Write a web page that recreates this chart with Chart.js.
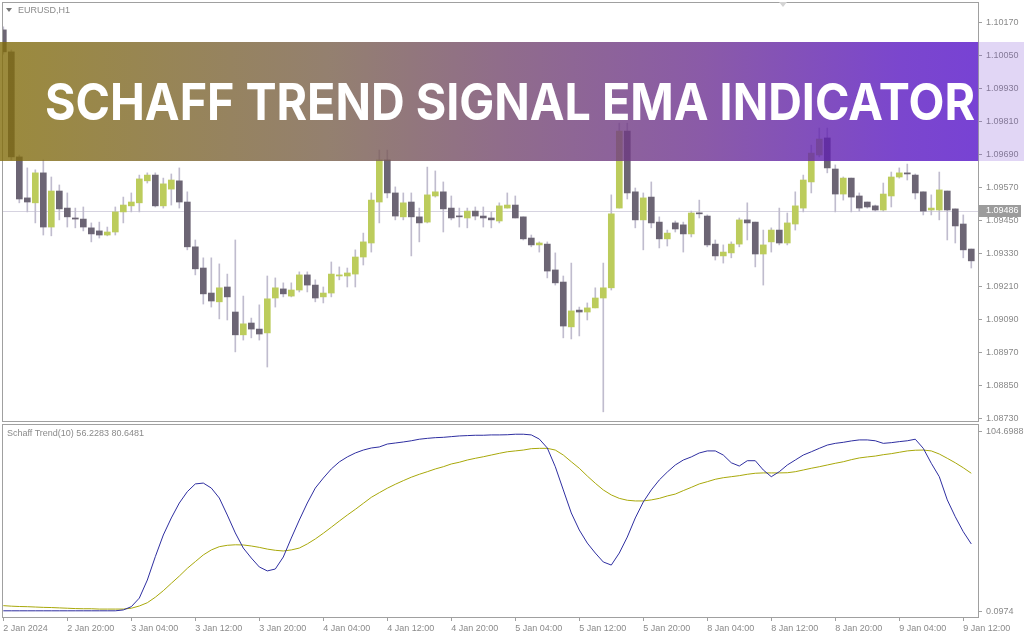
<!DOCTYPE html>
<html>
<head>
<meta charset="utf-8">
<script src="https://cdn.jsdelivr.net/npm/chart.js@4.4.1/dist/chart.umd.min.js"></script>
<style>
html, body { margin: 0; padding: 0; background: #fff; }
#wrap { position: relative; width: 1024px; height: 640px; overflow: hidden; font-family: "Liberation Sans", Arial, sans-serif; }
#main { position: absolute; left: 0; top: 0; }
#ind { position: absolute; left: 0; top: 424px; }
.lbl { position: absolute; font-size: 9px; color: #8a8a8a; white-space: nowrap; line-height: 10px; }
#banner { position: absolute; left: 0; top: 42px; width: 978px; height: 119px;
  background: linear-gradient(to right, rgba(130,109,11,0.8) 0%, rgba(121,96,76,0.8) 34%, rgba(116,71,111,0.8) 52%, rgba(109,49,146,0.8) 72%, rgba(90,24,193,0.8) 92%, rgba(86,19,201,0.8) 100%); }
#bannerSide { position: absolute; left: 978px; top: 42px; width: 46px; height: 119px; background: rgba(120,70,210,0.22); }
#title { position: absolute; left: 0; top: 0; }
#shiftMark { position: absolute; left: 779px; top: 2px; width: 0; height: 0; border-left: 4px solid transparent; border-right: 4px solid transparent; border-top: 5px solid #d4d4d4; }
#symTri { position: absolute; left: 6px; top: 8px; width: 0; height: 0; border-left: 3px solid transparent; border-right: 3px solid transparent; border-top: 4px solid #777; }
</style>
</head>
<body>
<div id="wrap">
  <canvas id="main" width="1024" height="424"></canvas>
  <canvas id="ind" width="1024" height="216"></canvas>
  <div id="symTri"></div>
  <div class="lbl" style="left:18px; top:5px;">EURUSD,H1</div>
  <div id="shiftMark"></div>
  <div class="lbl" style="left:7px; top:428px;">Schaff Trend(10) 56.2283 80.6481</div>
  <div id="banner"></div>
  <div id="bannerSide"></div>
  <svg id="title" width="1024" height="200" xmlns="http://www.w3.org/2000/svg">
    <text id="titleText" x="45" y="120" fill="#fff" font-family="Inter, Lato, sans-serif" font-weight="700"
      font-size="51" textLength="930" lengthAdjust="spacingAndGlyphs">SCHAFF TREND SIGNAL EMA INDICATOR</text>
  </svg>
</div>
<script>
// time axis labels, one every 8 bars starting at bar 0
const timeLabels = ['2 Jan 2024', '2 Jan 20:00', '3 Jan 04:00', '3 Jan 12:00', '3 Jan 20:00', '4 Jan 04:00',
  '4 Jan 12:00', '4 Jan 20:00', '5 Jan 04:00', '5 Jan 12:00', '5 Jan 20:00', '8 Jan 04:00',
  '8 Jan 12:00', '8 Jan 20:00', '9 Jan 04:00', '9 Jan 12:00'];
const priceTicks = [1.10170, 1.10050, 1.09930, 1.09810, 1.09690, 1.09570, 1.09450, 1.09330,
  1.09210, 1.09090, 1.08970, 1.08850, 1.08730];
const stcTicks = [104.6988, 0.0974];
const bidPrice = 1.09486;

const opens = [1.10145, 1.10065, 1.09683, 1.09534, 1.09516, 1.09625, 1.09428, 1.09559, 1.09497, 1.09461,
  1.09457, 1.09425, 1.09414, 1.09399, 1.09410, 1.09483, 1.09505, 1.09516, 1.09596, 1.09617,
  1.09505, 1.09566, 1.09596, 1.09519, 1.09356, 1.09279, 1.09188, 1.09156, 1.09210, 1.09119,
  1.09036, 1.09079, 1.09057, 1.09043, 1.09170, 1.09203, 1.09177, 1.09199, 1.09254, 1.09217,
  1.09174, 1.09188, 1.09250, 1.09250, 1.09257, 1.09319, 1.09370, 1.09519, 1.09672, 1.09552,
  1.09465, 1.09519, 1.09465, 1.09446, 1.09541, 1.09556, 1.09497, 1.09468, 1.09461, 1.09486,
  1.09468, 1.09461, 1.09450, 1.09497, 1.09508, 1.09465, 1.09388, 1.09363, 1.09366, 1.09272,
  1.09228, 1.09065, 1.09126, 1.09119, 1.09134, 1.09170, 1.09207, 1.09497, 1.09777, 1.09556,
  1.09454, 1.09537, 1.09446, 1.09385, 1.09443, 1.09436, 1.09403, 1.09479, 1.09468, 1.09366,
  1.09323, 1.09334, 1.09366, 1.09454, 1.09446, 1.09330, 1.09374, 1.09417, 1.09370, 1.09439,
  1.09497, 1.09592, 1.09690, 1.09752, 1.09639, 1.09548, 1.09606, 1.09541, 1.09519, 1.09505,
  1.09490, 1.09541, 1.09610, 1.09625, 1.09617, 1.09556, 1.09490, 1.09490, 1.09559, 1.09494,
  1.09439, 1.09348];
const highs = [1.10156, 1.10072, 1.09690, 1.09643, 1.09636, 1.09672, 1.09610, 1.09581, 1.09552, 1.09497,
  1.09501, 1.09443, 1.09446, 1.09428, 1.09501, 1.09537, 1.09552, 1.09617, 1.09625, 1.09625,
  1.09606, 1.09621, 1.09643, 1.09556, 1.09381, 1.09316, 1.09316, 1.09294, 1.09257, 1.09381,
  1.09177, 1.09097, 1.09145, 1.09250, 1.09243, 1.09225, 1.09225, 1.09265, 1.09265, 1.09236,
  1.09210, 1.09301, 1.09283, 1.09279, 1.09345, 1.09406, 1.09552, 1.09708, 1.09708, 1.09574,
  1.09552, 1.09552, 1.09497, 1.09646, 1.09632, 1.09592, 1.09541, 1.09497, 1.09497, 1.09501,
  1.09501, 1.09483, 1.09516, 1.09552, 1.09541, 1.09465, 1.09399, 1.09374, 1.09374, 1.09334,
  1.09250, 1.09297, 1.09137, 1.09152, 1.09207, 1.09297, 1.09545, 1.09806, 1.09806, 1.09570,
  1.09552, 1.09592, 1.09465, 1.09417, 1.09450, 1.09446, 1.09486, 1.09526, 1.09472, 1.09381,
  1.09363, 1.09374, 1.09461, 1.09516, 1.09446, 1.09417, 1.09425, 1.09497, 1.09479, 1.09556,
  1.09617, 1.09726, 1.09788, 1.09788, 1.09654, 1.09610, 1.09606, 1.09552, 1.09519, 1.09508,
  1.09588, 1.09628, 1.09643, 1.09657, 1.09621, 1.09556, 1.09545, 1.09628, 1.09559, 1.09494,
  1.09472, 1.09348];
const lows = [1.10057, 1.09672, 1.09516, 1.09483, 1.09443, 1.09399, 1.09396, 1.09454, 1.09428, 1.09425,
  1.09414, 1.09374, 1.09388, 1.09396, 1.09399, 1.09443, 1.09483, 1.09483, 1.09588, 1.09501,
  1.09497, 1.09508, 1.09497, 1.09345, 1.09254, 1.09148, 1.09137, 1.09094, 1.09090, 1.08974,
  1.09017, 1.09025, 1.09017, 1.08919, 1.09137, 1.09174, 1.09174, 1.09192, 1.09192, 1.09156,
  1.09152, 1.09174, 1.09236, 1.09210, 1.09210, 1.09290, 1.09337, 1.09443, 1.09534, 1.09454,
  1.09454, 1.09323, 1.09374, 1.09443, 1.09537, 1.09410, 1.09454, 1.09428, 1.09425, 1.09454,
  1.09428, 1.09425, 1.09443, 1.09497, 1.09461, 1.09381, 1.09356, 1.09337, 1.09243, 1.09217,
  1.09025, 1.09021, 1.09032, 1.09090, 1.09134, 1.08756, 1.09199, 1.09497, 1.09530, 1.09425,
  1.09345, 1.09425, 1.09352, 1.09359, 1.09410, 1.09337, 1.09392, 1.09461, 1.09356, 1.09308,
  1.09297, 1.09316, 1.09356, 1.09381, 1.09283, 1.09217, 1.09337, 1.09363, 1.09363, 1.09417,
  1.09483, 1.09552, 1.09683, 1.09625, 1.09483, 1.09526, 1.09483, 1.09486, 1.09497, 1.09486,
  1.09486, 1.09501, 1.09606, 1.09599, 1.09530, 1.09472, 1.09472, 1.09454, 1.09381, 1.09370,
  1.09316, 1.09279];
const closes = [1.10065, 1.09683, 1.09530, 1.09519, 1.09625, 1.09428, 1.09559, 1.09494, 1.09465, 1.09457,
  1.09428, 1.09403, 1.09399, 1.09410, 1.09483, 1.09508, 1.09519, 1.09603, 1.09617, 1.09505,
  1.09585, 1.09599, 1.09519, 1.09356, 1.09276, 1.09185, 1.09159, 1.09207, 1.09174, 1.09036,
  1.09076, 1.09057, 1.09039, 1.09167, 1.09207, 1.09185, 1.09199, 1.09254, 1.09217, 1.09170,
  1.09188, 1.09257, 1.09254, 1.09261, 1.09319, 1.09374, 1.09526, 1.09672, 1.09552, 1.09468,
  1.09516, 1.09465, 1.09443, 1.09545, 1.09556, 1.09494, 1.09461, 1.09465, 1.09486, 1.09468,
  1.09461, 1.09454, 1.09505, 1.09508, 1.09461, 1.09385, 1.09363, 1.09370, 1.09268, 1.09225,
  1.09068, 1.09123, 1.09119, 1.09134, 1.09170, 1.09207, 1.09476, 1.09777, 1.09552, 1.09454,
  1.09534, 1.09443, 1.09385, 1.09406, 1.09421, 1.09403, 1.09479, 1.09476, 1.09363, 1.09323,
  1.09337, 1.09366, 1.09454, 1.09443, 1.09330, 1.09363, 1.09417, 1.09370, 1.09443, 1.09505,
  1.09599, 1.09697, 1.09748, 1.09643, 1.09548, 1.09606, 1.09537, 1.09497, 1.09501, 1.09490,
  1.09548, 1.09610, 1.09625, 1.09621, 1.09552, 1.09486, 1.09497, 1.09563, 1.09490, 1.09432,
  1.09345, 1.09305];

// Schaff Trend main line (blue) and its EMA signal (olive)
const stcMain = [0.7, 0.7, 0.7, 0.7, 0.7, 0.7, 0.7, 0.7, 0.7, 0.7,
  0.7, 0.7, 0.7, 0.7, 0.7, 1.2, 3.1, 8.1, 18.6, 32.2,
  44.8, 54.7, 63.4, 70.0, 74.5, 75.0, 72.1, 66.3, 56.4, 46.0,
  37.2, 31.4, 26.2, 23.9, 25.0, 32.0, 43.0, 53.5, 63.4, 72.1,
  77.9, 83.2, 87.3, 90.2, 92.5, 94.2, 95.4, 96.0, 97.7, 98.3,
  98.9, 99.6, 100.5, 101.0, 101.4, 101.6, 102.0, 102.4, 102.6, 102.8,
  102.8, 103.0, 103.0, 103.1, 103.4, 103.4, 103.0, 100.6, 95.4, 84.5,
  71.0, 57.6, 47.7, 40.1, 34.3, 29.1, 27.3, 34.3, 43.6, 54.7,
  64.0, 71.0, 76.8, 81.4, 85.5, 88.4, 90.2, 92.5, 93.7, 93.7,
  91.3, 86.8, 84.9, 88.0, 88.0, 82.6, 78.7, 81.6, 85.5, 88.4,
  91.3, 93.2, 95.2, 97.1, 98.1, 98.7, 99.5, 100.1, 100.1, 99.6,
  98.1, 98.5, 99.1, 99.6, 100.5, 95.2, 86.5, 78.7, 65.2, 55.4,
  46.7, 39.6];
const stcSignal = [3.7, 3.4, 3.2, 3.1, 2.9, 2.7, 2.6, 2.4, 2.2, 2.0,
  1.9, 1.9, 1.7, 1.7, 1.7, 1.7, 2.2, 3.5, 5.4, 8.6,
  12.4, 16.7, 20.9, 25.4, 29.3, 33.2, 36.1, 38.0, 38.8, 39.1,
  39.0, 38.4, 37.6, 36.6, 35.9, 35.5, 36.1, 37.2, 39.6, 42.5,
  45.8, 49.3, 52.9, 56.4, 59.7, 63.2, 66.7, 69.4, 72.0, 74.3,
  76.4, 78.4, 80.1, 81.6, 83.2, 84.5, 86.1, 87.1, 88.4, 89.4,
  90.3, 91.3, 92.3, 93.2, 93.7, 94.2, 95.0, 95.2, 95.2, 94.2,
  91.3, 87.4, 83.6, 79.1, 74.9, 71.0, 68.1, 66.1, 65.0, 64.6,
  64.6, 65.2, 66.1, 67.5, 68.6, 70.6, 72.5, 74.5, 75.8, 77.2,
  78.1, 78.7, 79.3, 80.1, 80.7, 80.9, 80.9, 80.9, 81.0, 81.6,
  82.6, 83.6, 84.5, 85.5, 86.5, 87.4, 88.6, 89.6, 90.2, 90.7,
  91.5, 92.1, 92.9, 93.7, 94.1, 94.2, 93.7, 91.9, 89.4, 86.8,
  83.9, 80.7];

const bullColor = 'rgb(188,204,92)';
const bearColor = 'rgb(108,101,116)';
const wickColor = 'rgb(192,188,206)';
const axisColor = '#a0a0a0';
const textColor = '#8a8a8a';
const axisFont = { family: 'Liberation Sans', size: 9 };
const xMin = -0.04, xMax = 121.84;

const framePlugin = {
  id: 'frame',
  afterDraw(chart) {
    const a = chart.chartArea, ctx = chart.ctx;
    ctx.save();
    ctx.strokeStyle = axisColor;
    ctx.lineWidth = 1;
    ctx.strokeRect(a.left - 0.5, a.top - 0.5, a.right - a.left + 1, a.bottom - a.top + 1);
    ctx.restore();
  }
};

const bidPlugin = {
  id: 'bid',
  beforeDatasetsDraw(chart) {
    const a = chart.chartArea, ctx = chart.ctx;
    const y = Math.round(chart.scales.y.getPixelForValue(bidPrice)) + 0.5;
    ctx.save();
    ctx.strokeStyle = 'rgb(214,211,224)';
    ctx.beginPath(); ctx.moveTo(a.left, y); ctx.lineTo(a.right, y); ctx.stroke();
    ctx.restore();
  },
  afterDraw(chart) {
    const a = chart.chartArea, ctx = chart.ctx;
    const y = Math.round(chart.scales.y.getPixelForValue(bidPrice));
    ctx.save();
    ctx.fillStyle = '#9c9c9c';
    ctx.fillRect(a.right + 1, y - 6, 42, 12);
    ctx.fillStyle = '#fff';
    ctx.font = '9px "Liberation Sans"';
    ctx.textBaseline = 'middle';
    ctx.fillText(bidPrice.toFixed(5), a.right + 8, y);
    ctx.restore();
  }
};

const bodyColors = opens.map((o, i) => closes[i] > o ? bullColor : bearColor);

new Chart(document.getElementById('main'), {
  type: 'bar',
  data: {
    datasets: [{
      label: 'wicks',
      data: lows.map((l, i) => ({ x: i, y: [l, highs[i]] })),
      backgroundColor: wickColor,
      barThickness: 1,
      grouped: false,
      order: 2
    }, {
      label: 'bodies',
      data: opens.map((o, i) => ({ x: i, y: [o, closes[i]] })),
      backgroundColor: bodyColors,
      barThickness: 6,
      minBarLength: 1,
      grouped: false,
      order: 1
    }]
  },
  options: {
    responsive: false,
    animation: false,
    events: [],
    layout: { padding: { left: 3, top: 3, right: 0, bottom: 3 } },
    plugins: { legend: { display: false }, tooltip: { enabled: false } },
    scales: {
      x: { type: 'linear', display: false, offset: false, min: xMin, max: xMax },
      y: {
        position: 'right',
        min: 1.087227,
        max: 1.102427,
        afterBuildTicks: s => { s.ticks = priceTicks.map(v => ({ value: v })); },
        afterFit: s => { s.width = 46; s.paddingTop = 0; s.paddingBottom = 0; },
        ticks: { color: textColor, font: axisFont, padding: 4, callback: v => Number(v).toFixed(5) },
        grid: { drawOnChartArea: false, tickLength: 4, color: axisColor },
        border: { color: axisColor }
      }
    }
  },
  plugins: [bidPlugin, framePlugin]
});

new Chart(document.getElementById('ind'), {
  type: 'line',
  data: {
    datasets: [{
      label: 'Schaff Trend',
      data: stcMain.map((v, i) => ({ x: i, y: v })),
      borderColor: 'rgb(46,46,160)',
      borderWidth: 1,
      pointRadius: 0,
      tension: 0
    }, {
      label: 'Signal',
      data: stcSignal.map((v, i) => ({ x: i, y: v })),
      borderColor: 'rgb(168,168,10)',
      borderWidth: 1,
      pointRadius: 0,
      tension: 0
    }]
  },
  options: {
    responsive: false,
    animation: false,
    events: [],
    layout: { padding: { left: 3, top: 1, right: 0, bottom: 0 } },
    plugins: { legend: { display: false }, tooltip: { enabled: false } },
    scales: {
      x: {
        type: 'linear',
        offset: false,
        min: xMin,
        max: xMax,
        afterBuildTicks: s => { s.ticks = timeLabels.map((t, k) => ({ value: k * 8 })); },
        afterFit: s => { s.height = 23; s.paddingLeft = 0; s.paddingRight = 0; },
        ticks: { align: 'start', autoSkip: false, maxRotation: 0, color: textColor, font: axisFont, padding: 2,
          callback: (v, idx) => timeLabels[idx] },
        grid: { drawOnChartArea: false, tickLength: 4, color: axisColor },
        border: { color: axisColor }
      },
      y: {
        position: 'right',
        min: -2.9,
        max: 108.77,
        afterBuildTicks: s => { s.ticks = stcTicks.map(v => ({ value: v })); },
        afterFit: s => { s.width = 46; s.paddingTop = 0; s.paddingBottom = 0; },
        ticks: { color: textColor, font: axisFont, padding: 4, callback: v => Number(v).toFixed(4) },
        grid: { drawOnChartArea: false, tickLength: 4, color: axisColor },
        border: { color: axisColor }
      }
    }
  },
  plugins: [framePlugin]
});

// size the title so its capitals are about 37px tall; baseline and width are fixed by the svg
const tt = document.getElementById('titleText');
const probe = document.createElement('canvas').getContext('2d');
probe.font = '700 100px Inter, Lato, sans-serif';
const capRatio = probe.measureText('H').actualBoundingBoxAscent / 100;
tt.setAttribute('font-size', (37 / capRatio).toFixed(1));
</script>
</body>
</html>
